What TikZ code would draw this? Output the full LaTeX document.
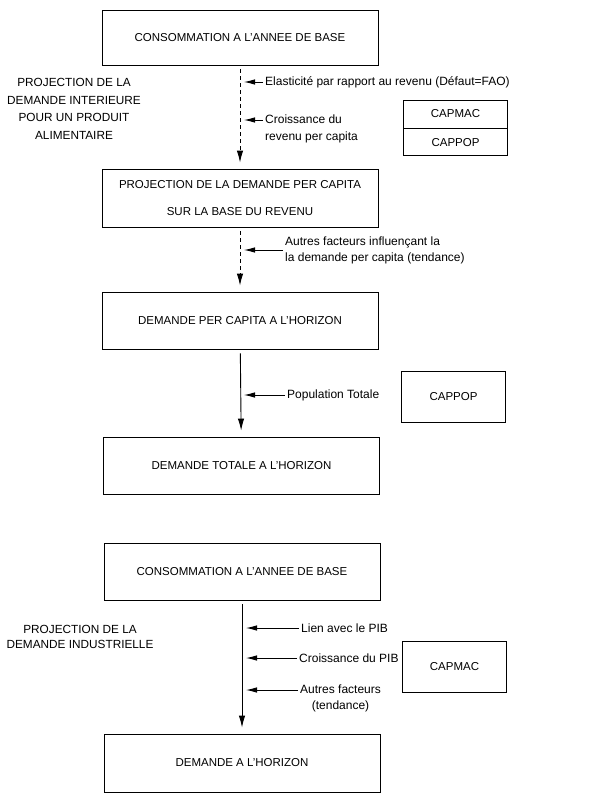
\documentclass[tikz,border=0pt]{standalone}
\usepackage{fontspec}
\setmainfont{Liberation Sans}
\usetikzlibrary{arrows.meta,positioning}

\begin{document}
\begin{tikzpicture}[x=1pt,y=-1pt,
    every node/.style={font=\fontsize{11.5}{13}\selectfont},
    box/.style={draw,line width=.9pt,minimum width=276pt,minimum height=57pt,inner sep=0pt,align=center},
    src/.style={draw,line width=.9pt,minimum width=104pt,inner sep=0pt},
    side/.style={anchor=west,inner sep=2pt,align=left,font=\fontsize{12}{14}\selectfont},
    flow/.style={line width=.9pt,-{Latex[length=12pt,width=6.5pt]},shorten <=4pt,shorten >=6pt},
    feed/.style={line width=.9pt,-{Latex[length=11pt,width=5.5pt]},shorten >=4pt}]
                  \useasboundingbox (0,0) rectangle (591,803);

                  \node[box,minimum height=55pt] (b1) at (240,37.5) {CONSOMMATION A L'ANNEE DE BASE};
                  \node[box,minimum height=58pt,font=\fontsize{11.5}{27}\selectfont] (b2) at (240,198) {PROJECTION DE LA DEMANDE PER CAPITA\\SUR LA BASE DU REVENU};
                  \node[box] (b3) at (240,320.5) {DEMANDE PER CAPITA A L'HORIZON};
                  \node[box] (b4) at (241.5,465.5) {DEMANDE TOTALE A L'HORIZON};
                  \node[box] (b5) at (242,571.5) {CONSOMMATION A L'ANNEE DE BASE};
                  \node[box,minimum height=58pt] (b6) at (242,763) {DEMANDE A L'HORIZON};

                  \node[src,minimum height=28pt] (s1) at (455.5,114) {CAPMAC};
                  \node[src,minimum height=27pt,below=0pt of s1] (s2) {CAPPOP};
                  \node[src,minimum height=51pt] (s3) at (453.5,396.5) {CAPPOP};
                  \node[src,minimum height=51pt] (s4) at (454.5,666.5) {CAPMAC};

                  \node[align=center,font=\fontsize{11.8}{17.5}\selectfont] (p1) at (74,109) {PROJECTION DE LA\\DEMANDE INTERIEURE\\POUR UN PRODUIT\\ALIMENTAIRE};
                  \node[align=center,font=\fontsize{11.8}{15}\selectfont] (p2) at (80,637) {PROJECTION DE LA\\DEMANDE INDUSTRIELLE};

                  \node[side] (f1) at (263,82) {Elasticité par rapport au revenu (Défaut=FAO)};
                  \node[side,anchor=north west,font=\fontsize{12}{17}\selectfont] (f2) at (263,113) {Croissance du\\revenu per capita};
                  \node[side,font=\fontsize{12}{16}\selectfont] (f3) at (283,250) {Autres facteurs influençant la\\la demande per capita (tendance)};
                  \node[side] (f4) at (285,395) {Population Totale};
                  \node[side] (f5) at (299,628) {Lien avec le PIB};
                  \node[side] (f6) at (297,658) {Croissance du PIB};
                  \node[side,anchor=north west,align=center,font=\fontsize{12}{16}\selectfont] (f7) at (298,683) {Autres facteurs\\(tendance)};

                  \draw[flow,dash pattern=on 4pt off 3pt] (b1) -- (b2);
                  \draw[flow,dash pattern=on 4pt off 3pt] (b2) -- (b3);
                  \draw[flow] (b3) -- (b4);
                  \draw[flow] (b5) -- (b6);

                  \draw[feed] (f1.west) -- (f1.west -| b1.south);
                  \draw[feed] ([yshift=-7pt]f2.north west) -- ([yshift=-7pt]f2.north west -| b1.south);
                  \draw[feed] (f3.west) -- (f3.west -| b2.south);
                  \draw[feed] (f4.west) -- (f4.west -| b3.south);
                  \draw[feed] (f5.west) -- (f5.west -| b5.south);
                  \draw[feed] (f6.west) -- (f6.west -| b5.south);
                  \draw[feed] ([yshift=-7pt]f7.north west) -- ([yshift=-7pt]f7.north west -| b5.south);
              \end{tikzpicture}
\end{document}
